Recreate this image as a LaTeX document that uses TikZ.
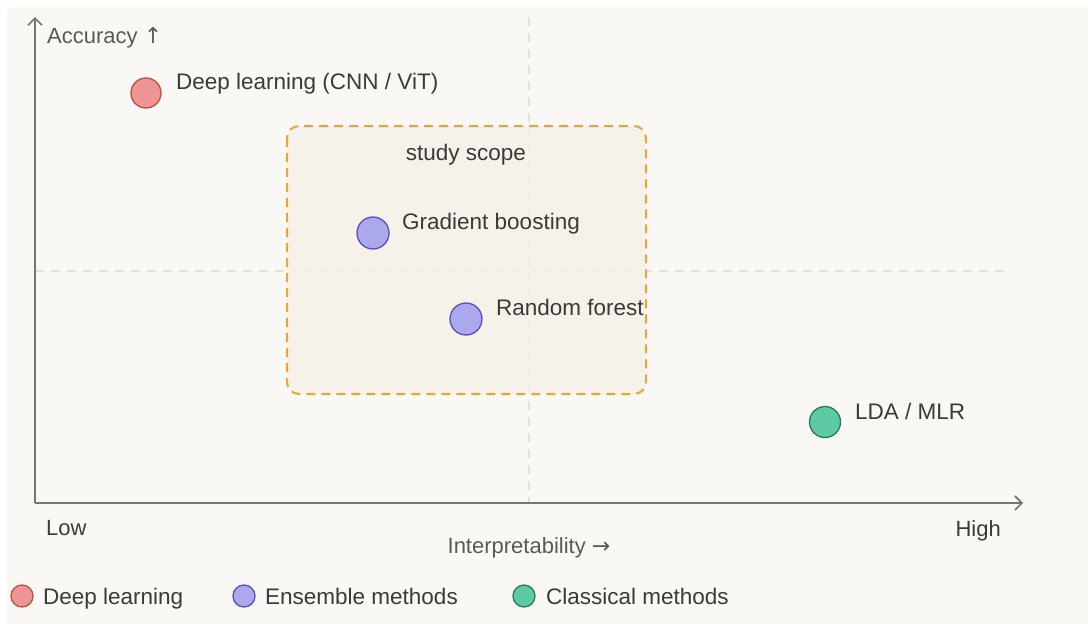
\documentclass[tikz,border=0pt]{standalone}
\usepackage{fontspec}
\setmainfont{Liberation Sans}
\newfontfamily\symfont{DejaVu Sans}
\usetikzlibrary{arrows.meta}
\definecolor{paper}{HTML}{F9F8F5}
\definecolor{axisgray}{HTML}{767573}
\definecolor{gridgray}{HTML}{E3E1DC}
\definecolor{ink}{HTML}{3A3A38}
\definecolor{softink}{HTML}{5A5956}
\definecolor{dlfill}{HTML}{F09595}
\definecolor{dldraw}{HTML}{B5533C}
\definecolor{enfill}{HTML}{ABA8EC}
\definecolor{endraw}{HTML}{5550C0}
\definecolor{clfill}{HTML}{5DCAA5}
\definecolor{cldraw}{HTML}{2A7A5A}
\definecolor{scopeline}{HTML}{F0A235}
\definecolor{scopefill}{HTML}{F6F0E8}
\tikzset{
  axis/.style={draw=axisgray, line width=2.2pt, -{Straight Barb[length=7pt,width=14pt,line width=1.6pt]}},
  gridline/.style={draw=gridgray, line width=1.2pt, dash pattern=on 9pt off 7pt},
  dot/.style={circle, minimum size=#1, inner sep=0pt, line width=1.3pt},
  dl/.style={dot=30pt, fill=dlfill, draw=dldraw},
  en/.style={dot=32pt, fill=enfill, draw=endraw},
  cl/.style={dot=31pt, fill=clfill, draw=cldraw},
  ldl/.style={dot=22pt, fill=dlfill, draw=dldraw},
  len/.style={dot=22pt, fill=enfill, draw=endraw},
  lcl/.style={dot=22pt, fill=clfill, draw=cldraw},
  lbl/.style={anchor=base west, inner sep=0pt, text=ink, font=\fontsize{22.5}{26}\selectfont},
  axlbl/.style={inner sep=0pt, text=softink, font=\fontsize{22}{26}\selectfont},
  leg/.style={anchor=base west, inner sep=0pt, text=ink, font=\fontsize{22.5}{26}\selectfont},
}
\begin{document}
\begin{tikzpicture}[x=1pt, y=-1pt]
% canvas
\useasboundingbox (0,0) rectangle (1088,624);
\fill[white] (0,0) rectangle (1088,624);
\fill[paper] (7,7) rectangle (1088,624);

% quadrant guides
\coordinate (vtop) at (529,17);
\coordinate (vbot) at (529,503);
\coordinate (hl) at (35,271);
\coordinate (hr) at (1005,271);
\draw[gridline] (vtop) -- (vbot);
\draw[gridline] (hl) -- (hr);

% study scope region
\draw[scopeline, fill=scopefill, fill opacity=0.85, line width=2pt, dash pattern=on 9pt off 6pt, rounded corners=12pt]
  (287,126) rectangle (646,394);
\node[anchor=base, inner sep=0pt, text=ink, font=\fontsize{22.5}{26}\selectfont] (scope) at (466,160) {study scope};

% axes
\coordinate (origin) at (35,503);
\coordinate (ytip) at (35,17);
\coordinate (xtip) at (1023,503);
\draw[axis] (origin) -- (ytip);
\draw[axis] (origin) -- (xtip);
\node[axlbl, anchor=base west] (ylab) at (47,43) {Accuracy {\symfont ↑}};
\node[axlbl, anchor=base] (xlab) at (529,553) {Interpretability {\symfont →}};
\node[axlbl, anchor=base west, text=ink] (low) at (46,535) {Low};
\node[axlbl, anchor=base east, text=ink] (high) at (1001,536) {High};

% methods
\node[dl] (deep) at (146,93) {};
\node[lbl] (deeplbl) at (176,89) {Deep learning (CNN / ViT)};
\node[en] (gb) at (373,233) {};
\node[lbl] (gblbl) at (402,229) {Gradient boosting};
\node[en] (rf) at (466,319) {};
\node[lbl] (rflbl) at (496,315) {Random forest};
\node[cl] (lda) at (825,422) {};
\node[lbl] (ldalbl) at (855,419) {LDA / MLR};

% legend
\node[ldl] (k1) at (22,596) {};
\node[leg] (k1t) at (43,604) {Deep learning};
\node[len] (k2) at (244,596) {};
\node[leg] (k2t) at (265,604) {Ensemble methods};
\node[lcl] (k3) at (524,596) {};
\node[leg] (k3t) at (546,604) {Classical methods};
\end{tikzpicture}
\end{document}
